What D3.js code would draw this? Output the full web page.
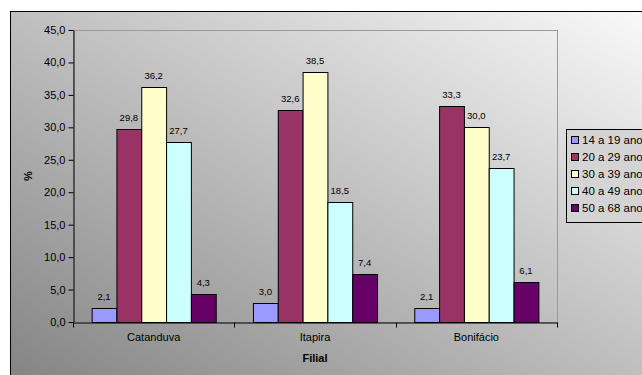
<!DOCTYPE html>
<html>
<head>
<meta charset="utf-8">
<script src="https://d3js.org/d3.v7.min.js"></script>
<style>
  body { margin:0; background:#fff; }
  svg text { font-family: "Liberation Sans", Arial, sans-serif; fill:#000; }
</style>
</head>
<body>
<div id="chart"></div>
<script>
// data
var filiais = ["Catanduva", "Itapira", "Bonifácio"];
var faixas = ["14 a 19 anos", "20 a 29 anos", "30 a 39 anos", "40 a 49 anos", "50 a 68 anos"];
var v14a19 = [2.1, 3.0, 2.1];
var v20a29 = [29.8, 32.6, 33.3];
var v30a39 = [36.2, 38.5, 30.0];
var v40a49 = [27.7, 18.5, 23.7];
var v50a68 = [4.3, 7.4, 6.1];
var yTicks = [0, 5, 10, 15, 20, 25, 30, 35, 40, 45];
var cores = ["#9999FF", "#993366", "#FFFFCC", "#CCFFFF", "#660066"];

var series = [v14a19, v20a29, v30a39, v40a49, v50a68];

var width = 642, height = 375;
var svg = d3.select("#chart").append("svg")
    .attr("width", width).attr("height", height);

var defs = svg.append("defs");
var grad = defs.append("linearGradient")
    .attr("id", "bg")
    .attr("x1", "0%").attr("y1", "100%")
    .attr("x2", "100%").attr("y2", "0%");
grad.append("stop").attr("offset", "0%").attr("stop-color", "#7f7f7f");
grad.append("stop").attr("offset", "100%").attr("stop-color", "#ffffff");

// chart area with gradient, border runs off the picture
svg.append("rect")
    .attr("x", 10.5).attr("y", 11.5)
    .attr("width", 700).attr("height", 400)
    .attr("fill", "url(#bg)")
    .attr("stroke", "#000").attr("stroke-width", 1);

var pLeft = 73, pRight = 557, pTop = 30, pBottom = 322;

var x0 = d3.scaleBand().domain(filiais).range([pLeft, pRight]).paddingInner(0).paddingOuter(0);
// gap width 150% -> 0.75 bar on each side of a group
var x1 = d3.scaleBand().domain(d3.range(faixas.length))
    .range([0, x0.bandwidth()]).paddingOuter(0.75).paddingInner(0);
var y = d3.scaleLinear().domain([0, 45]).range([pBottom, pTop]);

// plot area border
svg.append("rect")
    .attr("x", pLeft + 0.5).attr("y", pTop + 0.5)
    .attr("width", pRight - pLeft).attr("height", pBottom - pTop)
    .attr("fill", "none").attr("stroke", "#9a9a9a").attr("stroke-width", 1);

// bars
var groups = svg.selectAll("g.grupo")
    .data(filiais)
    .enter().append("g")
    .attr("class", "grupo")
    .attr("transform", function(d) { return "translate(" + x0(d) + ",0)"; });

groups.selectAll("rect")
    .data(function(d, i) { return series.map(function(s, k) { return {k: k, v: s[i]}; }); })
    .enter().append("rect")
    .attr("x", function(d) { return x1(d.k) + 0.5; })
    .attr("y", function(d) { return Math.round(y(d.v)) + 0.5; })
    .attr("width", x1.bandwidth())
    .attr("height", function(d) { return pBottom - Math.round(y(d.v)); })
    .attr("fill", function(d) { return cores[d.k]; })
    .attr("stroke", "#000").attr("stroke-width", 1);

groups.selectAll("text.val")
    .data(function(d, i) { return series.map(function(s, k) { return {k: k, v: s[i]}; }); })
    .enter().append("text")
    .attr("class", "val")
    .attr("x", function(d) { return x1(d.k) + x1.bandwidth() / 2; })
    .attr("y", function(d) { return y(d.v) - 8; })
    .attr("text-anchor", "middle")
    .style("font-size", "9.5px")
    .text(function(d) { return d3.format(".1f")(d.v).replace(".", ","); });

// axes
var yAxis = d3.axisLeft(y).tickValues(yTicks).tickSize(5).tickSizeOuter(0)
    .tickFormat(function(d) { return d3.format(".1f")(d).replace(".", ","); });
var gy = svg.append("g").attr("transform", "translate(" + (pLeft + 0.5) + ",0)").call(yAxis);
gy.selectAll("text").style("font-size", "11px").attr("x", -8);
gy.select(".domain").attr("stroke", "#000");

var xAxis = d3.axisBottom(x0).tickSize(0).tickSizeOuter(0);
var gx = svg.append("g").attr("transform", "translate(0," + (pBottom + 0.5) + ")").call(xAxis);
gx.selectAll("text").style("font-size", "11px").attr("dy", "1.45em");
// category separator ticks
gx.selectAll(".sep")
    .data([pLeft].concat(filiais.map(function(d) { return x0(d) + x0.bandwidth(); })))
    .enter().append("line")
    .attr("x1", function(d) { return Math.round(d) + 0.5; })
    .attr("x2", function(d) { return Math.round(d) + 0.5; })
    .attr("y1", 0).attr("y2", 5)
    .attr("stroke", "#000");

svg.append("text")
    .attr("x", (pLeft + pRight) / 2).attr("y", 362)
    .attr("text-anchor", "middle")
    .style("font-size", "11px").style("font-weight", "bold")
    .text("Filial");

svg.append("text")
    .attr("transform", "translate(32," + ((pTop + pBottom) / 2) + ") rotate(-90)")
    .attr("text-anchor", "middle")
    .style("font-size", "11px").style("font-weight", "bold")
    .text("%");

// legend
var legend = svg.append("g").attr("transform", "translate(566,129)");
legend.append("rect")
    .attr("x", 0.5).attr("y", 0.5).attr("width", 120).attr("height", 93)
    .attr("fill", "#d4d4d4").attr("stroke", "#000");
var items = legend.selectAll("g.item")
    .data(faixas)
    .enter().append("g")
    .attr("class", "item")
    .attr("transform", function(d, i) { return "translate(0," + (11 + i * 17) + ")"; });
items.append("rect")
    .attr("x", 5.5).attr("y", -3.5).attr("width", 7).attr("height", 7)
    .attr("fill", function(d, i) { return cores[i]; })
    .attr("stroke", "#000");
items.append("text")
    .attr("x", 16).attr("y", 4)
    .style("font-size", "11.5px")
    .text(function(d) { return d; });
</script>
</body>
</html>
